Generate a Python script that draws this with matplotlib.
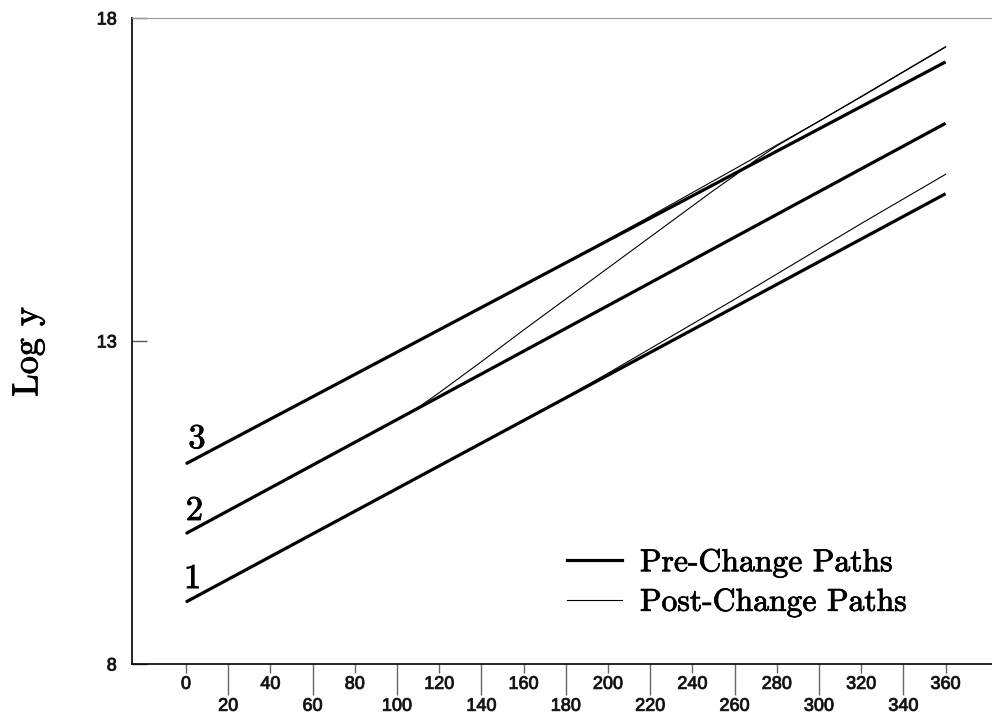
import matplotlib
matplotlib.use("Agg")
import matplotlib.pyplot as plt
from matplotlib.lines import Line2D
import matplotlib.patheffects as pe

# ---- data -------------------------------------------------------------
# straight pre-change paths (months, log level at start and end)
pre_t = [0, 360]
pre_path1 = [8.96, 15.28]
pre_path2 = [10.02, 16.37]
pre_path3 = [11.10, 17.32]

# post-change paths
post_t1 = [0, 20, 40, 60, 80, 100, 120, 140, 160, 180, 200, 220, 240, 260,
           280, 300, 320, 340, 360]
post_path1 = [8.96, 9.311, 9.662, 10.013, 10.364, 10.716, 11.067, 11.418,
              11.769, 12.130, 12.501, 12.882, 13.263, 13.645, 14.036, 14.427,
              14.818, 15.199, 15.580]

post_t2 = [0, 20, 40, 60, 80, 100, 110, 120, 140, 160, 180, 200, 220, 240,
           250, 260, 270, 280, 300, 320, 340, 360]
post_path2 = [10.02, 10.373, 10.726, 11.078, 11.431, 11.784, 11.97, 12.20,
              12.68, 13.17, 13.65, 14.13, 14.61, 15.09, 15.33, 15.56, 15.80,
              16.02, 16.40, 16.785, 17.17, 17.555]

post_t3 = [0, 20, 40, 60, 80, 100, 120, 140, 160, 180, 200, 220, 240, 260,
           280, 300, 320, 340, 360]
post_path3 = [11.10, 11.446, 11.791, 12.137, 12.482, 12.828, 13.173, 13.519,
              13.864, 14.215, 14.571, 14.931, 15.297, 15.662, 16.033, 16.403,
              16.779, 17.164, 17.550]

path_names = ["1", "2", "3"]
name_t = [3.1, 4.0, 5.2]
name_y = [9.176, 10.229, 11.344]

major_ticks = [0, 40, 80, 120, 160, 200, 240, 280, 320, 360]
minor_ticks = [20, 60, 100, 140, 180, 220, 260, 300, 340]
y_ticks = [8, 13, 18]

legend_labels = ["Pre-Change Paths", "Post-Change Paths"]

# ---- figure -----------------------------------------------------------
serif = "cmr10"
sans = "Liberation Sans"
heavy = [pe.withStroke(linewidth=0.6, foreground="black")]
tick_fx = [pe.withStroke(linewidth=0.7, foreground="#333333")]

fig = plt.figure(figsize=(9.92, 7.21), dpi=100)
ax = fig.add_axes([132 / 992, 57 / 721, 860 / 992, 646 / 721])

thick = 2.3
thin = 0.8
for yv in (pre_path1, pre_path2, pre_path3):
    ax.plot(pre_t, yv, color="black", lw=thick, solid_capstyle="butt")
for tv, yv in ((post_t1, post_path1), (post_t2, post_path2), (post_t3, post_path3)):
    ax.plot(tv, yv, color="black", lw=thin)

for name, tx, ty in zip(path_names, name_t, name_y):
    ax.text(tx, ty, name, ha="center", va="baseline", fontsize=25,
            family=serif, color="black", path_effects=heavy)

ax.set_xlim(-25.6, 382)
ax.set_ylim(8, 18)

ax.set_xticks(major_ticks)
ax.set_xticks(minor_ticks, minor=True)
ax.set_xticklabels([str(v) for v in major_ticks])
ax.set_xticklabels([str(v) for v in minor_ticks], minor=True)
ax.set_yticks(y_ticks)
ax.set_yticklabels([str(v) for v in y_ticks])

ax.tick_params(axis="x", which="major", direction="out", length=6.5,
               width=1, color="#666666", pad=2.0, labelsize=13,
               labelcolor="#111111")
ax.tick_params(axis="x", which="minor", direction="out", length=22.3,
               width=1, color="#666666", pad=2.0, labelsize=13,
               labelcolor="#111111")
ax.tick_params(axis="y", which="major", direction="in", length=10.8,
               width=1, color="#555555", pad=11, labelsize=13,
               labelcolor="#111111")
for lab in ax.get_xticklabels(which="both") + ax.get_yticklabels():
    lab.set_family(sans)
    lab.set_path_effects(tick_fx)

ax.spines["right"].set_visible(False)
ax.spines["top"].set_color("#9a9a9a")
ax.spines["top"].set_linewidth(0.8)
ax.spines["left"].set_linewidth(1.2)
ax.spines["bottom"].set_linewidth(1.2)

ylab = ax.set_ylabel("Log y", family=serif, fontsize=26, color="black")
ylab.set_path_effects(heavy)
ax.yaxis.set_label_coords(-0.102, 0.483)

handles = [Line2D([], [], color="black", lw=thick),
           Line2D([], [], color="black", lw=thin)]
leg = ax.legend(handles, legend_labels, loc="upper left",
                bbox_to_anchor=(0.506, 0.178), frameon=False,
                prop={"family": serif, "size": 22.8}, handlelength=1.73,
                handletextpad=0.57, labelspacing=0.36, borderpad=0,
                borderaxespad=0)
for txt in leg.get_texts():
    txt.set_path_effects(heavy)

fig.savefig("out.png", dpi=100)
